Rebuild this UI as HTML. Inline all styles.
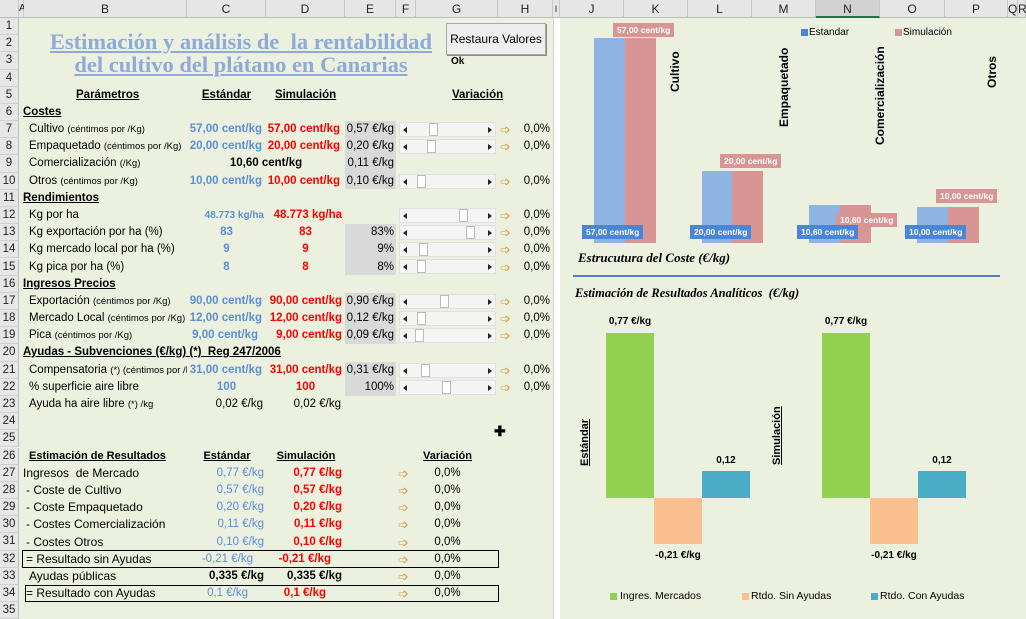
<!DOCTYPE html>
<html><head><meta charset="utf-8">
<style>
*{margin:0;padding:0;box-sizing:border-box}
body{width:1026px;height:619px;overflow:hidden;background:#ecf0df;font-family:"Liberation Sans",sans-serif;font-size:11.5px;color:#000;position:relative}
.a{position:absolute;white-space:nowrap;line-height:17px;height:17px}
.hd{position:absolute;top:0;height:18px;background:#e6e6e6;border-right:1px solid #c8c8c8;border-bottom:1px solid #bdbdbd;text-align:center;line-height:18px;font-size:12px;color:#222}
.rn{position:absolute;left:0;width:19px;height:17.2px;background:#e6e6e6;border-right:1px solid #bdbdbd;border-bottom:1px solid #d0d0d0;text-align:center;font-size:11.5px;line-height:17px;color:#222}
.b{color:#5b8ed8;font-weight:bold}
.rd{color:#f00;font-weight:bold}
.u{font-weight:bold;text-decoration:underline}
.s{font-size:9.5px}
.g{position:absolute;left:345px;width:51px;height:17px;background:#d9d9d9}
.sb{position:absolute;left:399px;width:97px;height:15px;background:#f4f4f4;border:1px solid #e0e0e0}
.sb:before{content:"";position:absolute;left:3px;top:4px;border:3px solid transparent;border-right:4px solid #222;border-left:0}
.sb:after{content:"";position:absolute;right:3px;top:4px;border:3px solid transparent;border-left:4px solid #222;border-right:0}
.th{position:absolute;top:0;width:9px;height:13px;background:#fff;border:1px solid #bbb}
.ar{position:absolute;color:#d4a04a;font-size:13px;line-height:17px;height:17px}
.r{text-align:right}
.c{text-align:center}
.lab{position:absolute;font-size:8.5px;font-weight:bold;color:#fff;line-height:14px;height:14px;padding:0 4px}
.vt{position:absolute;transform:rotate(-90deg);transform-origin:left top;font-weight:bold;font-size:12px;white-space:nowrap}
</style></head><body>
<!-- header -->
<div class="hd" style="left:0;width:19px"></div>
<div class="hd" style="left:19px;width:5px;font-size:10px">A</div>
<div class="hd" style="left:24px;width:163px">B</div>
<div class="hd" style="left:187px;width:79px">C</div>
<div class="hd" style="left:266px;width:79px">D</div>
<div class="hd" style="left:345px;width:51px">E</div>
<div class="hd" style="left:396px;width:20px">F</div>
<div class="hd" style="left:416px;width:82px">G</div>
<div class="hd" style="left:498px;width:55px">H</div>
<div class="hd" style="left:553px;width:7px;font-size:9px">I</div>
<div class="hd" style="left:560px;width:64px">J</div>
<div class="hd" style="left:624px;width:64px">K</div>
<div class="hd" style="left:688px;width:64px">L</div>
<div class="hd" style="left:752px;width:64px">M</div>
<div class="hd" style="left:816px;width:64px;background:#d2d2d2;border-bottom:2px solid #217346">N</div>
<div class="hd" style="left:880px;width:65px">O</div>
<div class="hd" style="left:945px;width:63px">P</div>
<div class="hd" style="left:1008px;width:10px">Q</div>
<div class="hd" style="left:1018px;width:8px">R</div>
<div style="position:absolute;left:553px;top:18px;width:7px;height:601px;background:#fff;border-left:1px solid #d4d4d4"></div>
<!-- row numbers -->
<div class="rn" style="top:18px">1</div><div class="rn" style="top:35.2px">2</div><div class="rn" style="top:52.4px">3</div><div class="rn" style="top:69.5px">4</div><div class="rn" style="top:86.7px">5</div><div class="rn" style="top:103.9px">6</div><div class="rn" style="top:121.1px">7</div><div class="rn" style="top:138.3px">8</div><div class="rn" style="top:155.4px">9</div><div class="rn" style="top:172.6px">10</div><div class="rn" style="top:189.8px">11</div><div class="rn" style="top:207px">12</div><div class="rn" style="top:224.2px">13</div><div class="rn" style="top:241.3px">14</div><div class="rn" style="top:258.5px">15</div><div class="rn" style="top:275.7px">16</div><div class="rn" style="top:292.9px">17</div><div class="rn" style="top:310.1px">18</div><div class="rn" style="top:327.2px">19</div><div class="rn" style="top:344.4px">20</div><div class="rn" style="top:361.6px">21</div><div class="rn" style="top:378.8px">22</div><div class="rn" style="top:396px">23</div><div class="rn" style="top:413.1px">24</div><div class="rn" style="top:430.3px">25</div><div class="rn" style="top:447.5px">26</div><div class="rn" style="top:464.7px">27</div><div class="rn" style="top:481.9px">28</div><div class="rn" style="top:499px">29</div><div class="rn" style="top:516.2px">30</div><div class="rn" style="top:533.4px">31</div><div class="rn" style="top:550.6px">32</div><div class="rn" style="top:567.8px">33</div><div class="rn" style="top:584.9px">34</div><div class="rn" style="top:602.1px">35</div>

<!-- title -->
<div style="position:absolute;left:30px;top:30px;width:422px;text-align:center;font-family:'Liberation Serif',serif;font-weight:bold;font-size:22.5px;line-height:23px;color:#8eaadb;text-decoration:underline">Estimación y análisis de &nbsp;la rentabilidad<br>del cultivo del plátano en Canarias</div>
<div style="position:absolute;left:446px;top:23px;width:100px;height:32px;background:#eeeeee;border:1px solid #aaa;box-shadow:1px 1px 0 #888;font-size:12px;text-align:center;line-height:30px">Restaura Valores</div>
<div class="a" style="left:451px;top:53px;font-weight:bold;font-size:10px">Ok</div>

<!-- header row 5 -->
<div class="a u" style="left:76px;top:87px">Parámetros</div>
<div class="a u c" style="left:187px;top:87px;width:79px">Estándar</div>
<div class="a u c" style="left:266px;top:87px;width:79px">Simulación</div>
<div class="a u" style="left:452px;top:87px">Variación</div>
<div class="a u" style="left:23px;top:104px">Costes</div>

<!-- gray cells -->
<div class="g" style="top:121px;height:68px"></div>
<div class="g" style="top:224px;height:51px"></div>
<div class="g" style="top:293px;height:51px"></div>
<div class="g" style="top:362px;height:34px"></div>

<!-- rows 7-10 -->
<div class="a" style="left:29px;top:121px">Cultivo <span class="s">(céntimos por /Kg)</span></div>
<div class="a b r" style="left:180px;top:121px;width:82px">57,00 cent/kg</div>
<div class="a rd r" style="left:258px;top:121px;width:82px">57,00 cent/kg</div>
<div class="a r" style="left:345px;top:121px;width:49px">0,57 €/kg</div>
<div class="a" style="left:29px;top:138px">Empaquetado <span class="s">(céntimos por /Kg)</span></div>
<div class="a b r" style="left:180px;top:138px;width:82px">20,00 cent/kg</div>
<div class="a rd r" style="left:258px;top:138px;width:82px">20,00 cent/kg</div>
<div class="a r" style="left:345px;top:138px;width:49px">0,20 €/kg</div>
<div class="a" style="left:29px;top:155px">Comercialización <span class="s">(/Kg)</span></div>
<div class="a c" style="left:216px;top:155px;width:100px;font-weight:bold">10,60 cent/kg</div>
<div class="a r" style="left:345px;top:155px;width:49px">0,11 €/kg</div>
<div class="a" style="left:29px;top:173px">Otros <span class="s">(céntimos por /Kg)</span></div>
<div class="a b r" style="left:180px;top:173px;width:82px">10,00 cent/kg</div>
<div class="a rd r" style="left:258px;top:173px;width:82px">10,00 cent/kg</div>
<div class="a r" style="left:345px;top:173px;width:49px">0,10 €/kg</div>

<div class="a u" style="left:23px;top:190px">Rendimientos</div>
<div class="a" style="left:29px;top:207px">Kg por ha</div>
<div class="a b r" style="left:180px;top:207px;width:84px;font-size:10px">48.773 kg/ha</div>
<div class="a rd r" style="left:258px;top:207px;width:84px">48.773 kg/ha</div>
<div class="a" style="left:29px;top:224px">Kg exportación por ha (%)</div>
<div class="a b c" style="left:187px;top:224px;width:79px">83</div>
<div class="a rd c" style="left:266px;top:224px;width:79px">83</div>
<div class="a r" style="left:345px;top:224px;width:49px">83%</div>
<div class="a" style="left:29px;top:241px">Kg mercado local por ha (%)</div>
<div class="a b c" style="left:187px;top:241px;width:79px">9</div>
<div class="a rd c" style="left:266px;top:241px;width:79px">9</div>
<div class="a r" style="left:345px;top:241px;width:49px">9%</div>
<div class="a" style="left:29px;top:259px">Kg pica por ha (%)</div>
<div class="a b c" style="left:187px;top:259px;width:79px">8</div>
<div class="a rd c" style="left:266px;top:259px;width:79px">8</div>
<div class="a r" style="left:345px;top:259px;width:49px">8%</div>

<div class="a u" style="left:23px;top:276px">Ingresos Precios</div>
<div class="a" style="left:29px;top:293px">Exportación <span class="s">(céntimos por /Kg)</span></div>
<div class="a b r" style="left:180px;top:293px;width:82px">90,00 cent/kg</div>
<div class="a rd r" style="left:258px;top:293px;width:84px">90,00 cent/kg</div>
<div class="a r" style="left:345px;top:293px;width:49px">0,90 €/kg</div>
<div class="a" style="left:29px;top:310px">Mercado Local <span class="s">(céntimos por /Kg)</span></div>
<div class="a b r" style="left:180px;top:310px;width:82px">12,00 cent/kg</div>
<div class="a rd r" style="left:258px;top:310px;width:84px">12,00 cent/kg</div>
<div class="a r" style="left:345px;top:310px;width:49px">0,12 €/kg</div>
<div class="a" style="left:29px;top:327px">Pica <span class="s">(céntimos por /Kg)</span></div>
<div class="a b r" style="left:180px;top:327px;width:78px">9,00 cent/kg</div>
<div class="a rd r" style="left:258px;top:327px;width:84px">9,00 cent/kg</div>
<div class="a r" style="left:345px;top:327px;width:49px">0,09 €/kg</div>

<div class="a u" style="left:23px;top:344px">Ayudas - Subvenciones (€/kg) (*) &nbsp;Reg 247/2006</div>
<div class="a" style="left:29px;top:362px;width:158px;overflow:hidden">Compensatoria <span class="s">(*) (céntimos por /Kg)</span></div>
<div class="a b r" style="left:180px;top:362px;width:82px">31,00 cent/kg</div>
<div class="a rd r" style="left:258px;top:362px;width:84px">31,00 cent/kg</div>
<div class="a r" style="left:345px;top:362px;width:49px">0,31 €/kg</div>
<div class="a" style="left:29px;top:379px">% superficie aire libre</div>
<div class="a b c" style="left:187px;top:379px;width:79px">100</div>
<div class="a rd c" style="left:266px;top:379px;width:79px">100</div>
<div class="a r" style="left:345px;top:379px;width:49px">100%</div>
<div class="a" style="left:29px;top:396px">Ayuda ha aire libre <span class="s">(*) /kg</span></div>
<div class="a r" style="left:180px;top:396px;width:83px">0,02 €/kg</div>
<div class="a r" style="left:258px;top:396px;width:83px">0,02 €/kg</div>

<!-- scrollbars -->
<div class="sb" style="top:122px"><div class="th" style="left:29px"></div></div>
<div class="sb" style="top:139px"><div class="th" style="left:27px"></div></div>
<div class="sb" style="top:174px"><div class="th" style="left:17px"></div></div>
<div class="sb" style="top:208px"><div class="th" style="left:59px"></div></div>
<div class="sb" style="top:225px"><div class="th" style="left:66px"></div></div>
<div class="sb" style="top:242px"><div class="th" style="left:19px"></div></div>
<div class="sb" style="top:259px"><div class="th" style="left:17px"></div></div>
<div class="sb" style="top:294px"><div class="th" style="left:40px"></div></div>
<div class="sb" style="top:311px"><div class="th" style="left:17px"></div></div>
<div class="sb" style="top:328px"><div class="th" style="left:15px"></div></div>
<div class="sb" style="top:363px"><div class="th" style="left:21px"></div></div>
<div class="sb" style="top:380px"><div class="th" style="left:42px"></div></div>

<!-- arrows + % upper -->
<div class="ar" style="left:500px;top:121px">➩</div><div class="a r" style="left:510px;top:121px;width:40px">0,0%</div>
<div class="ar" style="left:500px;top:138px">➩</div><div class="a r" style="left:510px;top:138px;width:40px">0,0%</div>
<div class="ar" style="left:500px;top:173px">➩</div><div class="a r" style="left:510px;top:173px;width:40px">0,0%</div>
<div class="ar" style="left:500px;top:207px">➩</div><div class="a r" style="left:510px;top:207px;width:40px">0,0%</div>
<div class="ar" style="left:500px;top:224px">➩</div><div class="a r" style="left:510px;top:224px;width:40px">0,0%</div>
<div class="ar" style="left:500px;top:241px">➩</div><div class="a r" style="left:510px;top:241px;width:40px">0,0%</div>
<div class="ar" style="left:500px;top:259px">➩</div><div class="a r" style="left:510px;top:259px;width:40px">0,0%</div>
<div class="ar" style="left:500px;top:293px">➩</div><div class="a r" style="left:510px;top:293px;width:40px">0,0%</div>
<div class="ar" style="left:500px;top:310px">➩</div><div class="a r" style="left:510px;top:310px;width:40px">0,0%</div>
<div class="ar" style="left:500px;top:327px">➩</div><div class="a r" style="left:510px;top:327px;width:40px">0,0%</div>
<div class="ar" style="left:500px;top:362px">➩</div><div class="a r" style="left:510px;top:362px;width:40px">0,0%</div>
<div class="ar" style="left:500px;top:379px">➩</div><div class="a r" style="left:510px;top:379px;width:40px">0,0%</div>

<div class="a" style="left:494px;top:423px;font-size:14px;font-weight:bold">✚</div>

<!-- lower table -->
<div class="a u" style="left:29px;top:448px;font-size:11px">Estimación de Resultados</div>
<div class="a u c" style="left:187px;top:448px;width:80px;font-size:11px">Estándar</div>
<div class="a u c" style="left:266px;top:448px;width:80px;font-size:11px">Simulación</div>
<div class="a u c" style="left:416px;top:448px;width:63px;font-size:11px">Variación</div>
<div class="a" style="left:23px;top:465px;font-size:12px">Ingresos &nbsp;de Mercado</div>
<div class="a" style="left:26px;top:482px;font-size:12px">- Coste de Cultivo</div>
<div class="a" style="left:26px;top:499px;font-size:12px">- Coste Empaquetado</div>
<div class="a" style="left:26px;top:516px;font-size:12px">- Costes Comercialización</div>
<div class="a" style="left:26px;top:534px;font-size:12px">- Costes Otros</div>
<div class="a" style="left:26px;top:551px;font-size:12px">= Resultado sin Ayudas</div>
<div class="a" style="left:29px;top:568px;font-size:12px">Ayudas públicas</div>
<div class="a" style="left:26px;top:585px;font-size:12px">= Resultado con Ayudas</div>
<div class="a b r" style="left:180px;top:465px;width:84px;font-weight:normal">0,77 €/kg</div>
<div class="a b r" style="left:180px;top:482px;width:84px;font-weight:normal">0,57 €/kg</div>
<div class="a b r" style="left:180px;top:499px;width:84px;font-weight:normal">0,20 €/kg</div>
<div class="a b r" style="left:180px;top:516px;width:84px;font-weight:normal">0,11 €/kg</div>
<div class="a b r" style="left:180px;top:534px;width:84px;font-weight:normal">0,10 €/kg</div>
<div class="a b r" style="left:170px;top:551px;width:83px;font-weight:normal">-0,21 €/kg</div>
<div class="a r" style="left:180px;top:568px;width:84px;font-weight:bold">0,335 €/kg</div>
<div class="a b r" style="left:170px;top:585px;width:78px;font-weight:normal">0,1 €/kg</div>
<div class="a rd r" style="left:258px;top:465px;width:84px">0,77 €/kg</div>
<div class="a rd r" style="left:258px;top:482px;width:84px">0,57 €/kg</div>
<div class="a rd r" style="left:258px;top:499px;width:84px">0,20 €/kg</div>
<div class="a rd r" style="left:258px;top:516px;width:84px">0,11 €/kg</div>
<div class="a rd r" style="left:258px;top:534px;width:84px">0,10 €/kg</div>
<div class="a rd r" style="left:248px;top:551px;width:83px">-0,21 €/kg</div>
<div class="a r" style="left:258px;top:568px;width:84px;font-weight:bold">0,335 €/kg</div>
<div class="a rd r" style="left:248px;top:585px;width:78px">0,1 €/kg</div>
<div style="position:absolute;left:22px;top:550px;width:477px;height:18px;border:1.5px solid #000"></div>
<div style="position:absolute;left:25px;top:585px;width:474px;height:17px;border:1.5px solid #000"></div>
<div class="ar" style="left:398px;top:465px">➩</div><div class="a c" style="left:425px;top:465px;width:45px">0,0%</div>
<div class="ar" style="left:398px;top:482px">➩</div><div class="a c" style="left:425px;top:482px;width:45px">0,0%</div>
<div class="ar" style="left:398px;top:499px">➩</div><div class="a c" style="left:425px;top:499px;width:45px">0,0%</div>
<div class="ar" style="left:398px;top:516px">➩</div><div class="a c" style="left:425px;top:516px;width:45px">0,0%</div>
<div class="ar" style="left:398px;top:534px">➩</div><div class="a c" style="left:425px;top:534px;width:45px">0,0%</div>
<div class="ar" style="left:398px;top:551px">➩</div><div class="a c" style="left:425px;top:551px;width:45px">0,0%</div>
<div class="ar" style="left:398px;top:568px">➩</div><div class="a c" style="left:425px;top:568px;width:45px">0,0%</div>
<div class="ar" style="left:398px;top:585px">➩</div><div class="a c" style="left:425px;top:585px;width:45px">0,0%</div>

<!-- top chart -->
<div style="position:absolute;left:801px;top:29px;width:7px;height:7px;background:#4a86d8"></div>
<div class="a" style="left:809px;top:24px;font-size:10px">Estandar</div>
<div style="position:absolute;left:895px;top:29px;width:7px;height:7px;background:#d99594"></div>
<div class="a" style="left:903px;top:24px;font-size:10px">Simulación</div>

<div style="position:absolute;left:594px;top:38px;width:31px;height:205px;background:#8eb4e3"></div>
<div style="position:absolute;left:625px;top:38px;width:31px;height:205px;background:#d99594"></div>
<div style="position:absolute;left:702px;top:171px;width:30px;height:72px;background:#8eb4e3"></div>
<div style="position:absolute;left:732px;top:171px;width:31px;height:72px;background:#d99594"></div>
<div style="position:absolute;left:809px;top:205px;width:31px;height:38px;background:#8eb4e3"></div>
<div style="position:absolute;left:840px;top:205px;width:31px;height:38px;background:#d99594"></div>
<div style="position:absolute;left:917px;top:207px;width:31px;height:36px;background:#8eb4e3"></div>
<div style="position:absolute;left:948px;top:207px;width:31px;height:36px;background:#d99594"></div>

<div class="lab" style="left:613px;top:23px;background:#d99594">57,00 cent/kg</div>
<div class="lab" style="left:720px;top:154px;background:#d99594">20,00 cent/kg</div>
<div class="lab" style="left:836px;top:213px;background:#d99594">10,60 cent/kg</div>
<div class="lab" style="left:936px;top:189px;background:#d99594">10,00 cent/kg</div>
<div class="lab" style="left:582px;top:225px;background:#4a86d8">57,00 cent/kg</div>
<div class="lab" style="left:690px;top:225px;background:#4a86d8">20,00 cent/kg</div>
<div class="lab" style="left:797px;top:225px;background:#4a86d8">10,60 cent/kg</div>
<div class="lab" style="left:905px;top:225px;background:#4a86d8">10,00 cent/kg</div>

<div class="vt" style="left:668px;top:92px">Cultivo</div>
<div class="vt" style="left:777px;top:127px">Empaquetado</div>
<div class="vt" style="left:873px;top:145px">Comercialización</div>
<div class="vt" style="left:985px;top:88px">Otros</div>

<div class="a" style="left:578px;top:249px;font-family:'Liberation Serif',serif;font-style:italic;font-weight:bold;font-size:13px">Estrucutura del Coste (€/kg)</div>
<div style="position:absolute;left:573px;top:275px;width:427px;height:2px;background:#4f81bd"></div>

<!-- bottom chart -->
<div class="a" style="left:575px;top:285px;font-family:'Liberation Serif',serif;font-style:italic;font-weight:bold;font-size:12.5px">Estimación de Resultados Analíticos &nbsp;(€/kg)</div>
<div style="position:absolute;left:606px;top:333px;width:48px;height:165px;background:#92d050"></div>
<div style="position:absolute;left:654px;top:498px;width:48px;height:46px;background:#fac090"></div>
<div style="position:absolute;left:702px;top:471px;width:48px;height:27px;background:#4bacc6"></div>
<div style="position:absolute;left:822px;top:333px;width:48px;height:165px;background:#92d050"></div>
<div style="position:absolute;left:870px;top:498px;width:48px;height:46px;background:#fac090"></div>
<div style="position:absolute;left:918px;top:471px;width:48px;height:27px;background:#4bacc6"></div>
<div class="a c" style="left:600px;top:313px;width:60px;font-weight:bold;font-size:10px">0,77 €/kg</div>
<div class="a c" style="left:816px;top:313px;width:60px;font-weight:bold;font-size:10px">0,77 €/kg</div>
<div class="a c" style="left:646px;top:547px;width:64px;font-weight:bold;font-size:10px">-0,21 €/kg</div>
<div class="a c" style="left:862px;top:547px;width:64px;font-weight:bold;font-size:10px">-0,21 €/kg</div>
<div class="a c" style="left:706px;top:452px;width:40px;font-weight:bold;font-size:10px">0,12</div>
<div class="a c" style="left:922px;top:452px;width:40px;font-weight:bold;font-size:10px">0,12</div>
<div class="vt" style="left:579px;top:466px;font-size:11px;text-decoration:underline">Estándar</div>
<div class="vt" style="left:771px;top:465px;font-size:11px;text-decoration:underline">Simulación</div>

<div style="position:absolute;left:610px;top:593px;width:7px;height:7px;background:#92d050"></div>
<div class="a" style="left:620px;top:588px;font-size:10.5px">Ingres. Mercados</div>
<div style="position:absolute;left:742px;top:593px;width:7px;height:7px;background:#fac090"></div>
<div class="a" style="left:751px;top:588px;font-size:10.5px">Rtdo. Sin Ayudas</div>
<div style="position:absolute;left:871px;top:593px;width:7px;height:7px;background:#4bacc6"></div>
<div class="a" style="left:880px;top:588px;font-size:10.5px">Rtdo. Con Ayudas</div>
</body></html>
